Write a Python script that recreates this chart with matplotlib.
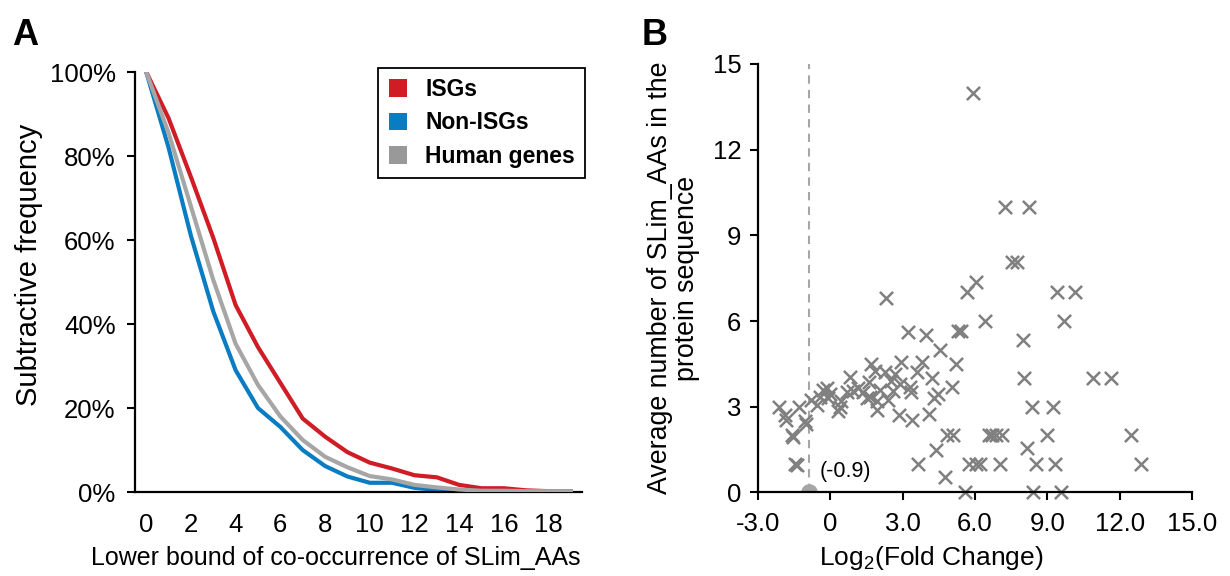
import numpy as np
import matplotlib.pyplot as plt
from matplotlib.patches import Patch
from matplotlib.ticker import FixedLocator, FixedFormatter

#Fuente tipo Arial para todo el grafico
plt.rcParams["font.family"] = ["Liberation Sans", "DejaVu Sans"]
plt.rcParams["mathtext.fontset"] = "custom"
plt.rcParams["mathtext.rm"] = "Liberation Sans"
plt.rcParams["mathtext.it"] = "Liberation Sans"

#Datos del panel A (frecuencia sustractiva en %)
limiteInferior = [0, 1, 2, 3, 4, 5, 6, 7, 8, 9, 10, 11, 12, 13, 14, 15, 16, 17, 18, 19]
isgs = [100, 89, 75, 60.5, 44.5, 34.5, 26, 17.5, 13.2, 9.5, 7, 5.6, 4, 3.5, 1.7, 0.9, 0.9, 0.4, 0.2, 0.2]
nonIsgs = [100, 82, 61, 43, 29, 20, 15.5, 10, 6.2, 3.7, 2.2, 2.2, 1.0, 0.5, 0.3, 0.1, 0.1, 0.1, 0.1, 0.1]
humanGenes = [100, 85.5, 68, 50.5, 35.3, 25.5, 18, 12.4, 8.4, 5.9, 3.8, 3.0, 1.7, 1.1, 0.6, 0.3, 0.3, 0.2, 0.2, 0.2]
etiquetasX = ["0", "", "2", "", "4", "", "6", "", "8", "", "10", "", "12", "", "14", "", "16", "", "18", ""]

#Datos del panel B (log2 fold change vs promedio de SLim_AAs)
log2Fc = [-2.15, -1.9, -1.85, -1.6, -1.55, -1.45, -1.4, -1.3, -1.05, -1.0,
          -0.8, -0.55, -0.45, -0.3, -0.15, -0.1, 0.0, 0.3, 0.4, 0.45,
          0.7, 0.8, 0.95, 1.15, 1.35, 1.5, 1.6, 1.65, 1.7, 1.85,
          1.95, 1.95, 2.05, 2.25, 2.3, 2.4, 2.5, 2.6, 2.7, 2.85,
          2.9, 2.95, 3.2, 3.3, 3.35, 3.4, 3.6, 3.65, 3.8, 3.95,
          4.1, 4.2, 4.3, 4.45, 4.4, 4.55, 4.75, 4.85, 5.05, 5.1,
          5.2, 5.3, 5.4, 5.6, 5.65, 5.75, 5.9, 6.05, 6.05, 6.2,
          6.4, 6.6, 6.7, 6.85, 7.05, 7.1, 7.25, 7.55, 7.75, 8.0,
          8.05, 8.15, 8.25, 8.35, 8.4, 8.55, 9.0, 9.25, 9.3, 9.4,
          9.55, 9.7, 10.15, 10.9, 11.65, 12.45, 12.9]
promedioSlim = [3.0, 2.7, 2.55, 2.0, 1.95, 1.0, 0.95, 3.0, 2.5, 2.4,
                3.25, 3.05, 3.35, 3.6, 3.65, 3.3, 3.45, 2.85, 3.0, 3.2,
                3.5, 4.05, 3.55, 3.65, 3.5, 3.3, 3.85, 3.35, 4.5, 4.25,
                3.2, 2.9, 3.6, 4.2, 6.8, 3.25, 3.9, 3.55, 4.15, 2.7,
                3.8, 4.55, 5.6, 3.7, 3.5, 2.55, 4.2, 1.0, 4.55, 5.5,
                2.75, 4.0, 3.3, 3.45, 1.5, 5.0, 0.55, 2.0, 3.7, 2.0,
                4.5, 5.65, 5.65, 0.0, 7.0, 1.0, 14.0, 7.35, 1.0, 1.0,
                6.0, 2.0, 2.0, 2.0, 1.0, 2.0, 10.0, 8.05, 8.05, 5.35,
                4.0, 1.55, 10.0, 3.0, 0.0, 1.0, 2.0, 3.0, 1.0, 7.0,
                0.0, 6.0, 7.0, 4.0, 4.0, 2.0, 1.0]
umbralFc = -0.9

rojo = "#d01c24"
azul = "#0a7cc2"
gris = "#a6a6a6"
grisPuntos = "#808080"

fig = plt.figure(figsize=(12.3, 5.76), dpi=100)

#---------------- Panel A ----------------
axA = fig.add_axes([0.1098, 0.1458, 0.3634, 0.7292])
axA.plot(limiteInferior, isgs, color=rojo, linewidth=3, zorder=3)
axA.plot(limiteInferior, nonIsgs, color=azul, linewidth=3, zorder=2)
axA.plot(limiteInferior, humanGenes, color=gris, linewidth=3, zorder=4)

axA.set_xlim(-0.5, 19.5)
axA.set_ylim(0, 100)
axA.xaxis.set_major_locator(FixedLocator(limiteInferior))
axA.xaxis.set_major_formatter(FixedFormatter(etiquetasX))
axA.set_yticks([0, 20, 40, 60, 80, 100])
axA.set_yticklabels(["0%", "20%", "40%", "60%", "80%", "100%"])
axA.tick_params(axis="x", length=0, pad=15, labelsize=18.5)
axA.tick_params(axis="y", length=6, width=1.5, pad=8, labelsize=18.5)
for lado in ["top", "right"]:
    axA.spines[lado].set_visible(False)
for lado in ["left", "bottom"]:
    axA.spines[lado].set_linewidth(1.6)
axA.set_xlabel("Lower bound of co-occurrence of SLim_AAs", fontsize=18)
axA.xaxis.set_label_coords(0.45, -0.128)
axA.set_ylabel("Subtractive frequency", fontsize=21)
axA.yaxis.set_label_coords(-0.205, 0.54)

manejadores = [Patch(facecolor=rojo), Patch(facecolor=azul), Patch(facecolor="#999999")]
leyenda = axA.legend(manejadores, ["ISGs", "Non-ISGs", "Human genes"],
                     loc="upper left", bbox_to_anchor=(0.544, 1.01), borderaxespad=0,
                     prop={"weight": "bold", "size": 16.5}, handlelength=0.8,
                     handleheight=0.8, handletextpad=0.8, labelspacing=0.45,
                     borderpad=0.45, fancybox=False, framealpha=1)
leyenda.get_frame().set_edgecolor("black")
leyenda.get_frame().set_linewidth(1.3)

fig.text(0.01, 0.922, "A", fontsize=26, fontweight="bold")

#---------------- Panel B ----------------
axB = fig.add_axes([0.6163, 0.1450, 0.3528, 0.7440])
axB.axvline(umbralFc, color=gris, linestyle=(0, (4, 3)), linewidth=1.5, zorder=1)
axB.scatter(log2Fc, promedioSlim, marker="x", s=90, linewidths=1.8, color=grisPuntos, zorder=3, clip_on=False)
axB.plot([umbralFc], [0], "o", color=gris, markersize=11, zorder=2, clip_on=True)
axB.text(-0.45, 0.55, "(-0.9)", fontsize=15.5)

axB.set_xlim(-3, 15)
axB.set_ylim(0, 15)
axB.set_xticks([-3, 0, 3, 6, 9, 12, 15])
axB.set_xticklabels(["-3.0", "0", "3.0", "6.0", "9.0", "12.0", "15.0"])
axB.set_yticks([0, 3, 6, 9, 12, 15])
axB.tick_params(axis="x", length=6, width=1.5, pad=8, labelsize=18.5)
axB.tick_params(axis="y", length=6, width=1.5, pad=6, labelsize=18.5)
for lado in ["top", "right"]:
    axB.spines[lado].set_visible(False)
for lado in ["left", "bottom"]:
    axB.spines[lado].set_linewidth(1.6)
    axB.spines[lado].set_zorder(4)
axB.set_xlabel(r"Log$_\mathrm{2}$(Fold Change)", fontsize=19)
axB.xaxis.set_label_coords(0.40, -0.12)
axB.set_ylabel("Average number of SLim_AAs in the\nprotein sequence", fontsize=19.3, linespacing=1.05)
axB.yaxis.set_label_coords(-0.134, 0.5)

fig.text(0.522, 0.922, "B", fontsize=26, fontweight="bold")

fig.savefig("out.png", dpi=100)
